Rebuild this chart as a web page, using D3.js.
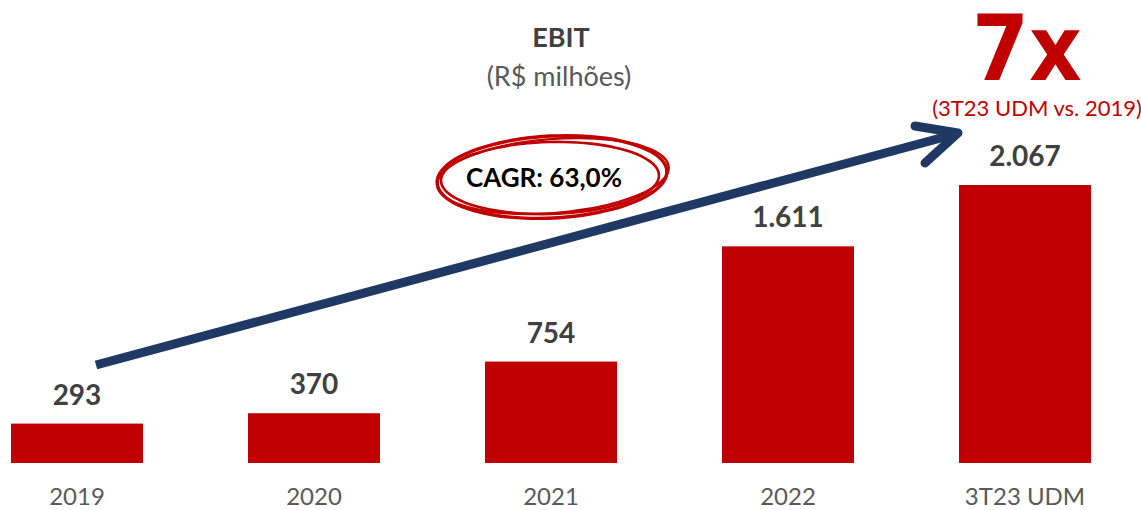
<!DOCTYPE html>
<html>
<head>
<meta charset="utf-8">
<script src="https://cdn.jsdelivr.net/npm/d3@7"></script>
<style>
  html, body { margin: 0; padding: 0; background: #ffffff; }
  svg { display: block; font-family: Lato, "Open Sans", sans-serif; }
</style>
</head>
<body>
<svg id="chart" width="1141" height="510"></svg>
<script>
// EBIT by period (R$ millions)
const categories = ["2019", "2020", "2021", "2022", "3T23 UDM"];
const ebit = [293, 370, 754, 1611, 2067];
const valueLabels = ["293", "370", "754", "1.611", "2.067"];

const title = "EBIT";
const subtitle = "(R$ milhões)";
const cagrText = "CAGR: 63,0%";
const multipleText = "7x";
const multipleNote = "(3T23 UDM vs. 2019)";

const RED = "#c00000";
const NAVY = "#1f3864";
const DARK = "#404040";
const GREY = "#595959";

const svg = d3.select("#chart");
const baseline = 463;

const x = d3.scaleBand()
  .domain(categories)
  .range([11, 1091])
  .paddingInner(0.443)
  .paddingOuter(0);

const y = d3.scaleLinear()
  .domain([0, d3.max(ebit)])
  .range([baseline, 185]);

const rows = categories.map((c, i) => ({ cat: c, value: ebit[i], label: valueLabels[i] }));

// bars
svg.append("g")
  .selectAll("rect")
  .data(rows)
  .join("rect")
  .attr("x", d => x(d.cat))
  .attr("y", d => y(d.value))
  .attr("width", x.bandwidth())
  .attr("height", d => y(0) - y(d.value))
  .attr("fill", RED);

// value labels above bars
svg.append("g")
  .selectAll("text")
  .data(rows)
  .join("text")
  .attr("x", d => x(d.cat) + x.bandwidth() / 2)
  .attr("y", d => y(d.value) - 19)
  .attr("text-anchor", "middle")
  .attr("font-size", 28)
  .attr("font-weight", 700)
  .attr("fill", DARK)
  .text(d => d.label);

// category axis (labels only)
const xAxis = d3.axisBottom(x).tickSize(0).tickPadding(0);
const axisG = svg.append("g")
  .attr("transform", `translate(0,${baseline})`)
  .call(xAxis);
axisG.select(".domain").remove();
axisG.selectAll("text")
  .attr("y", 42)
  .attr("dy", 0)
  .attr("font-size", 24)
  .attr("font-family", "Lato, 'Open Sans', sans-serif")
  .attr("fill", GREY);

// title block
svg.append("text")
  .attr("x", 561).attr("y", 47)
  .attr("text-anchor", "middle")
  .attr("font-size", 27).attr("font-weight", 700)
  .attr("fill", DARK)
  .text(title);
svg.append("text")
  .attr("x", 559).attr("y", 86)
  .attr("text-anchor", "middle")
  .attr("font-size", 27)
  .attr("fill", GREY)
  .text(subtitle);

// growth arrow from the first bar to the last
const first = categories[0], last = categories[categories.length - 1];
const x0 = x(first) + x.bandwidth() / 2 + 19, y0 = 365;
const x1 = x(last) - 1, y1 = 133;
svg.append("line")
  .attr("x1", x0).attr("y1", y0)
  .attr("x2", x1 - 6).attr("y2", y1 + 2)
  .attr("stroke", NAVY).attr("stroke-width", 9);
svg.append("path")
  .attr("d", `M${x1 - 43},${y1 - 7} L${x1},${y1} L${x1 - 33},${y1 + 30}`)
  .attr("fill", "none")
  .attr("stroke", NAVY).attr("stroke-width", 9)
  .attr("stroke-linecap", "round").attr("stroke-linejoin", "round");

// hand-drawn style ellipse around the CAGR figure
const ringSpecs = [
  { cx: 552, cy: 177, rx: 115, ry: 41, rot: -3, w: 3.4 },
  { cx: 550, cy: 178, rx: 109, ry: 36, rot: -1.5, w: 2.6 },
  { cx: 553, cy: 176, rx: 116, ry: 37, rot: -4.5, w: 2.4 }
];
const ringLine = d3.line().curve(d3.curveCardinalClosed);
svg.append("g")
  .selectAll("path")
  .data(ringSpecs)
  .join("path")
  .attr("d", s => {
    const pts = d3.range(0, 48).map(k => {
      const t = (k / 48) * 2 * Math.PI;
      const ex = s.rx * Math.cos(t), ey = s.ry * Math.sin(t);
      const r = s.rot * Math.PI / 180;
      return [s.cx + ex * Math.cos(r) - ey * Math.sin(r), s.cy + ex * Math.sin(r) + ey * Math.cos(r)];
    });
    return ringLine(pts);
  })
  .attr("fill", "none")
  .attr("stroke", RED)
  .attr("stroke-width", s => s.w);

svg.append("text")
  .attr("x", 544).attr("y", 187)
  .attr("text-anchor", "middle")
  .attr("font-size", 26).attr("font-weight", 700)
  .attr("fill", "#000000")
  .text(cagrText);

// multiple callout
svg.append("text")
  .attr("x", 972).attr("y", 80)
  .attr("font-family", "'DejaVu Sans', sans-serif")
  .attr("font-size", 90).attr("font-weight", 700)
  .attr("textLength", 110).attr("lengthAdjust", "spacingAndGlyphs")
  .attr("fill", RED)
  .text(multipleText);
svg.append("text")
  .attr("x", 1037).attr("y", 116)
  .attr("text-anchor", "middle")
  .attr("font-size", 22)
  .attr("fill", RED)
  .text(multipleNote);
</script>
</body>
</html>
